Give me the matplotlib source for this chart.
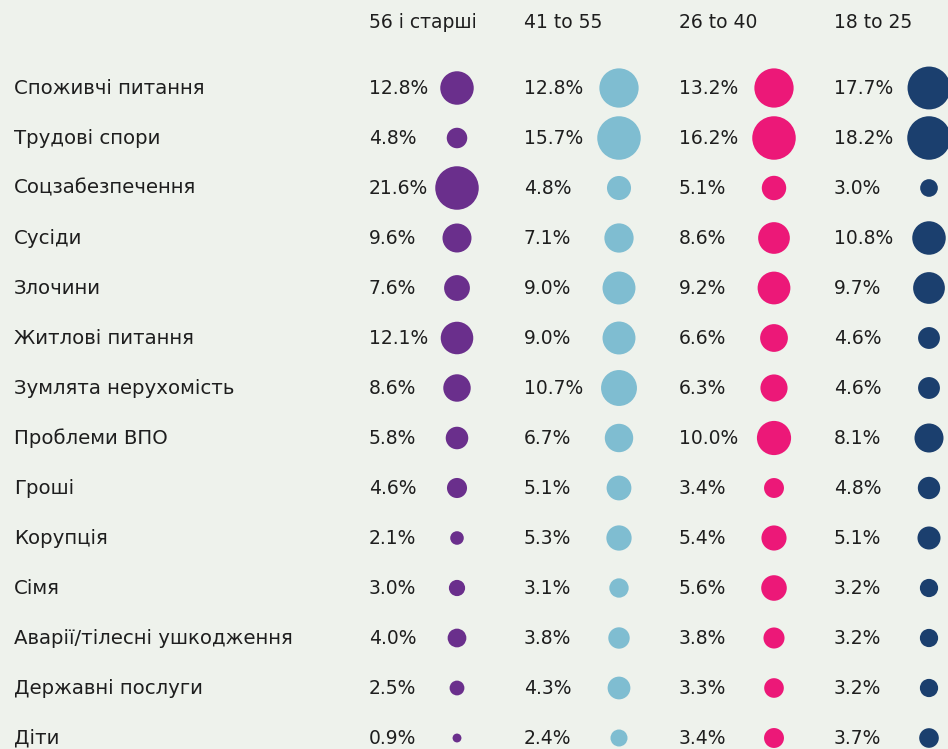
import numpy as np
import matplotlib.pyplot as plt

# категорії та значення (%) по вікових групах
categories = ["Споживчі питання", "Трудові спори", "Соцзабезпечення", "Сусіди",
              "Злочини", "Житлові питання", "Зумлята нерухомість", "Проблеми ВПО",
              "Гроші", "Корупція", "Сімя", "Аварії/тілесні ушкодження",
              "Державні послуги", "Діти"]
groups = ["56 і старші", "41 to 55", "26 to 40", "18 to 25"]

age_56plus = [12.8, 4.8, 21.6, 9.6, 7.6, 12.1, 8.6, 5.8, 4.6, 2.1, 3.0, 4.0, 2.5, 0.9]
age_41_55 = [12.8, 15.7, 4.8, 7.1, 9.0, 9.0, 10.7, 6.7, 5.1, 5.3, 3.1, 3.8, 4.3, 2.4]
age_26_40 = [13.2, 16.2, 5.1, 8.6, 9.2, 6.6, 6.3, 10.0, 3.4, 5.4, 5.6, 3.8, 3.3, 3.4]
age_18_25 = [17.7, 18.2, 3.0, 10.8, 9.7, 4.6, 4.6, 8.1, 4.8, 5.1, 3.2, 3.2, 3.2, 3.7]

colors = ["#6a2f8c", "#7fbdd1", "#ec1878", "#1b3f6e"]
bg = "#eef2ec"
txt = "#1e1e1e"

plt.rcParams["font.family"] = ["DejaVu Sans"]
fs = 13.5

fig = plt.figure(figsize=(9.48, 7.49), dpi=100, facecolor=bg)
ax = fig.add_axes([0, 0, 1, 1])
ax.set_facecolor(bg)
ax.set_xlim(0, 948)
# рядок i -> піксель 88 + 50*i
ax.set_ylim((749 - 88) / 50, -88 / 50)
ax.axis("off")

rows = np.arange(len(categories))
for i, c in enumerate(categories):
    ax.text(14, i, c, fontsize=14.2, color=txt, va="center", ha="left")

series = [age_56plus, age_41_55, age_26_40, age_18_25]
dot_offset = [88, 95, 95, 95]
for j, (g, vals, col) in enumerate(zip(groups, series, colors)):
    x_txt = 369 + 155 * j
    x_dot = x_txt + dot_offset[j]
    ax.text(x_txt, -1.32, g, fontsize=fs, color=txt, va="center", ha="left")
    vals = np.array(vals)
    d_px = 43.5 * np.sqrt(vals / vals.max())
    sizes = (d_px * 0.72) ** 2
    ax.scatter(np.full(len(vals), x_dot), rows, s=sizes, color=col,
               linewidths=0, clip_on=True)
    for i, v in enumerate(vals):
        ax.text(x_txt, i, f"{v:.1f}%", fontsize=fs, color=txt,
                va="center", ha="left")

plt.savefig("out.png", dpi=100, facecolor=bg)
